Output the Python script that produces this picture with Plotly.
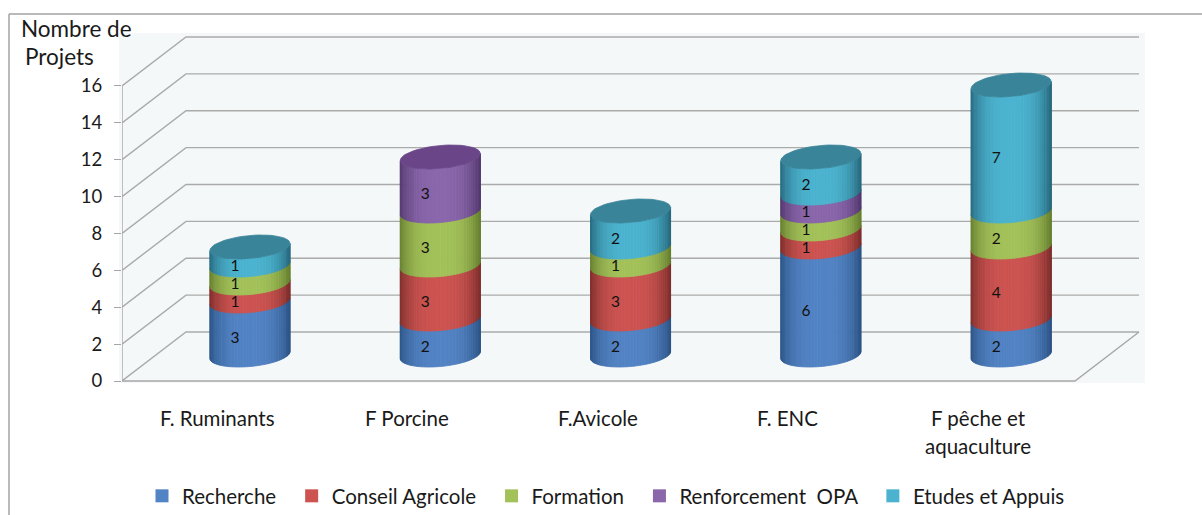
import math
import plotly.graph_objects as go

# ---- data ----
categories = ["F. Ruminants", "F Porcine", "F.Avicole", "F. ENC", "F pêche et\naquaculture"]
recherche = [3, 2, 2, 6, 2]
conseil = [1, 3, 3, 1, 4]
formation = [1, 3, 1, 1, 2]
renforcement = [0, 3, 0, 1, 0]
etudes = [1, 0, 2, 2, 7]
series_names = ["Recherche", "Conseil Agricole", "Formation", "Renforcement  OPA", "Etudes et Appuis"]
y_ticks = [0, 2, 4, 6, 8, 10, 12, 14, 16]

series_values = [recherche, conseil, formation, renforcement, etudes]
colors = ["#5283c4", "#cc5350", "#a3c159", "#8a66ab", "#4bb3cf"]
dark = ["#2c5487", "#7e2e2c", "#66802f", "#53386f", "#27697f"]
tops = ["#3f6ea8", "#a8403d", "#86a044", "#6a4689", "#3a8499"]

# ---- figure geometry ----
W, H = 1202, 515
L, R, T, B = 122, 1145, 33, 383     # plot area, pixels
PX_X = 190.3                         # pixels per category
PX_Y = 18.44                         # pixels per value unit
X0 = 250                             # pixel of first category
Y0 = 381                             # pixel of value 0
x_range = [(L - X0) / PX_X, (R - X0) / PX_X]
y_range = [(Y0 - B) / PX_Y, (Y0 - T) / PX_Y]

depth_x = 64 / PX_X                  # full floor depth, category units
depth_y = 49 / PX_Y                  # full floor depth, value units
front_l = (122 - X0) / PX_X
front_r = (1075 - X0) / PX_X
base_y = 26 / PX_Y                   # cylinder base lift (mid-depth of the floor)
persp = 18.0 / PX_Y                  # mid-depth foreshortening of the value scale
rad_x = 40 / PX_X
rad_y = 11.5 / PX_Y
tilt = 3.5 / PX_Y
N = 40


def px(v):
    return v / W


def py(v):
    return 1 - v / H


def mix(c1, c2, f):
    a = [int(c1[i:i + 2], 16) for i in (1, 3, 5)]
    b = [int(c2[i:i + 2], 16) for i in (1, 3, 5)]
    return "#%02x%02x%02x" % tuple(round(p + (q - p) * f) for p, q in zip(a, b))


fig = go.Figure()

# grid: side wall and back wall, one polyline per tick
gx, gy = [], []
for v in y_ticks:
    gx += [front_l, front_l + depth_x, front_r + depth_x, None]
    gy += [v, v + depth_y, v + depth_y, None]
fig.add_trace(go.Scatter(x=gx, y=gy, mode="lines", line=dict(color="#aaaaaa", width=1.4),
                         hoverinfo="skip", showlegend=False))
# floor edges and value axis
fig.add_trace(go.Scatter(
    x=[front_l, front_l, None, front_l, front_r, front_r + depth_x],
    y=[y_ticks[-1], 0, None, 0, 0, depth_y],
    mode="lines", line=dict(color="#a6a6a6", width=1.4), hoverinfo="skip", showlegend=False))

# cylinders: vertical strips between the front arcs of each stacked segment
for s, vals in enumerate(series_values):
    for j in range(N):
        t1 = math.pi * j / N
        t2 = math.pi * (j + 1) / N
        mid = (t1 + t2) / 2
        pos = math.cos(mid)
        shade = min(1.0, abs(pos + 0.03) ** 3.0)
        col = mix(colors[s], dark[s], shade)
        xs, ys = [], []
        for i, v in enumerate(vals):
            if v == 0:
                continue
            low = sum(series_values[k][i] for k in range(s)) * persp + base_y
            high = low + v * persp
            ts = [t1, t2]
            bottom = [(i + rad_x * math.cos(t), low - rad_y * math.sin(t) + tilt * math.cos(t)) for t in ts]
            top = [(i + rad_x * math.cos(t), high - rad_y * math.sin(t) + tilt * math.cos(t)) for t in ts]
            pts = bottom + top[::-1] + bottom[:1]
            xs += [p[0] for p in pts] + [None]
            ys += [p[1] for p in pts] + [None]
        fig.add_trace(go.Scatter(x=xs, y=ys, mode="lines", fill="toself", fillcolor=col,
                                 line=dict(color=col, width=0.8), hoverinfo="skip", showlegend=False))

# top caps of each stack
for i in range(len(categories)):
    s = max(k for k in range(len(series_values)) if series_values[k][i] > 0)
    h = sum(series_values[k][i] for k in range(len(series_values))) * persp + base_y
    ts = [2 * math.pi * n / 60 for n in range(61)]
    fig.add_trace(go.Scatter(
        x=[i + rad_x * math.cos(t) for t in ts],
        y=[h + rad_y * math.sin(t) + tilt * math.cos(t) for t in ts],
        mode="lines", fill="toself", fillcolor=tops[s], line=dict(color=tops[s], width=0.8),
        hoverinfo="skip", showlegend=False))

# value labels
lx, ly, lt = [], [], []
for s, vals in enumerate(series_values):
    for i, v in enumerate(vals):
        if v == 0:
            continue
        low = sum(series_values[k][i] for k in range(s))
        lx.append(i - 15 / PX_X)
        ly.append((low + v / 2) * persp + base_y - 11 / PX_Y)
        lt.append(str(v))
fig.add_trace(go.Scatter(x=lx, y=ly, text=lt, mode="text", textposition="middle center",
                         textfont=dict(family="Lato", size=15.5, color="#111111"),
                         hoverinfo="skip", showlegend=False))

# legend entries
for s, name in enumerate(series_names):
    fig.add_trace(go.Scatter(x=[None], y=[None], mode="markers", name=name + "\u00a0\u00a0",
                             marker=dict(symbol="square", size=13, color=colors[s])))

# category labels
annotations = []
for i, cat in enumerate(categories):
    for n, line in enumerate(cat.split("\n")):
        annotations.append(dict(x=i - 33 / PX_X, y=0, xref="x", yref="y", text=line, showarrow=False,
                                xanchor="center", yanchor="middle", yshift=-(37 + 28 * n),
                                font=dict(family="Lato", size=20.5, color="#1a1a1a")))
# axis title
for text, xp, yp in [("Nombre de", 76, 28), ("Projets", 59, 56)]:
    annotations.append(dict(x=px(xp), y=py(yp), xref="paper", yref="paper", text=text, showarrow=False,
                            xanchor="center", yanchor="middle",
                            font=dict(family="Lato", size=22.5, color="#1a1a1a")))

shapes = [
    dict(type="rect", xref="paper", yref="paper", x0=px(119), x1=px(1145), y0=py(383), y1=py(33),
         fillcolor="#f5f8f8", line=dict(width=0), layer="below"),
    dict(type="line", xref="paper", yref="paper", x0=px(9), x1=px(1202), y0=py(14), y1=py(14),
         line=dict(color="#a3a3a3", width=1.5)),
    dict(type="line", xref="paper", yref="paper", x0=px(9), x1=px(9), y0=py(14), y1=py(515),
         line=dict(color="#a3a3a3", width=1.5)),
]

fig.update_layout(
    width=W, height=H,
    margin=dict(l=0, r=0, t=0, b=0, pad=0, autoexpand=False),
    paper_bgcolor="white", plot_bgcolor="rgba(0,0,0,0)",
    font=dict(family="Lato", color="#1a1a1a"),
    shapes=shapes, annotations=annotations, hovermode=False,
    legend=dict(orientation="h", x=px(142), xanchor="left", y=py(496), yanchor="middle",
                font=dict(family="Lato", size=20.5), itemwidth=30, bgcolor="rgba(0,0,0,0)"),
    xaxis=dict(domain=[L / W, R / W], range=x_range, showgrid=False, zeroline=False,
               showticklabels=False, showline=False, ticks=""),
    yaxis=dict(domain=[1 - B / H, 1 - T / H], range=y_range, showgrid=False, zeroline=False,
               showline=False, tickvals=y_ticks, ticks="outside", ticklen=7, tickcolor="#a6a6a6",
               tickwidth=1.4, ticklabelstandoff=8,
               tickfont=dict(family="Lato", size=18.5, color="#1a1a1a")),
)

fig.write_html("out.html", config={"displayModeBar": False},
               post_script="document.body.style.margin='0';")
